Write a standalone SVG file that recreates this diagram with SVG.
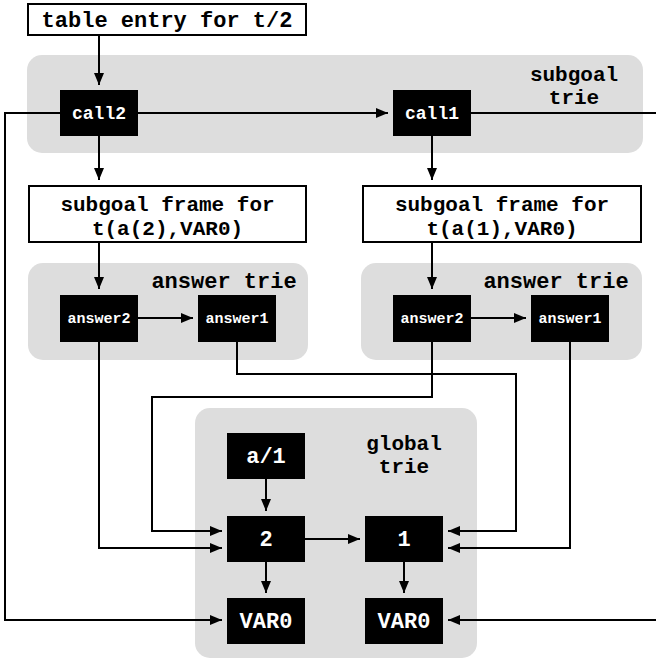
<svg xmlns="http://www.w3.org/2000/svg" width="656" height="661" viewBox="0 0 656 661">
<style>
.panel{fill:#dddddd;stroke:none}
.frame{fill:#ffffff;stroke:#000000;stroke-width:2}
.node{fill:#000000}
.t{font-family:"Liberation Mono","Courier New",monospace;font-weight:bold;text-anchor:middle}
.big{font-size:22px;fill:#000000}
.two{font-size:21px;fill:#000000}
.lab{font-size:22px;fill:#000000}
.w22{font-size:22px;fill:#ffffff}
.w18{font-size:18px;fill:#ffffff}
.w15{font-size:15px;fill:#ffffff}
.c{fill:none;stroke:#000000;stroke-width:2}
</style>
<defs>
<marker id="ah" markerUnits="userSpaceOnUse" markerWidth="12" markerHeight="10" refX="12" refY="5" orient="auto">
<path d="M0,0 L12,5 L0,10 z" fill="#000000"/>
</marker>
</defs>
<g id="panels">
<rect id="subgoal-trie" class="panel" x="27" y="55" width="616" height="98" rx="15"/>
<rect id="answer-trie-left" class="panel" x="28" y="263" width="280" height="97" rx="15"/>
<rect id="answer-trie-right" class="panel" x="361" y="263" width="281" height="97" rx="15"/>
<rect id="global-trie" class="panel" x="195" y="408" width="282" height="250" rx="15"/>
<text class="t two" x="574" y="81">subgoal</text>
<text class="t two" x="574" y="104">trie</text>
<text class="t lab" x="224" y="288">answer trie</text>
<text class="t lab" x="556" y="288">answer trie</text>
<text class="t two" x="404" y="450">global</text>
<text class="t two" x="404" y="473">trie</text>
</g>
<g id="connectors">
<path class="c" d="M99,36 L99,85" marker-end="url(#ah)"/>
<path class="c" d="M138,113 L388,113" marker-end="url(#ah)"/>
<path class="c" d="M60,113 L5,113 L5,620 L222,620" marker-end="url(#ah)"/>
<path class="c" d="M471,113 L662,113 L662,620 L448,620" marker-end="url(#ah)"/>
<path class="c" d="M99,136 L99,180" marker-end="url(#ah)"/>
<path class="c" d="M432,136 L432,180" marker-end="url(#ah)"/>
<path class="c" d="M99,243 L99,289" marker-end="url(#ah)"/>
<path class="c" d="M432,243 L432,289" marker-end="url(#ah)"/>
<path class="c" d="M138,318 L193,318" marker-end="url(#ah)"/>
<path class="c" d="M471,318 L526,318" marker-end="url(#ah)"/>
<path class="c" d="M99,342 L99,548 L222,548" marker-end="url(#ah)"/>
<path class="c" d="M432,342 L432,397 L152,397 L152,531 L222,531" marker-end="url(#ah)"/>
<path class="c" d="M237,342 L237,374 L516,374 L516,531 L448,531" marker-end="url(#ah)"/>
<path class="c" d="M570,342 L570,548 L448,548" marker-end="url(#ah)"/>
<path class="c" d="M266,479 L266,511" marker-end="url(#ah)"/>
<path class="c" d="M305,539 L360,539" marker-end="url(#ah)"/>
<path class="c" d="M266,562 L266,593" marker-end="url(#ah)"/>
<path class="c" d="M404,562 L404,593" marker-end="url(#ah)"/>
</g>
<g id="table-entry">
<rect class="frame" x="28" y="4" width="278" height="31"/>
<text class="t big" x="167" y="27">table entry for t/2</text>
</g>
<g id="frame-left">
<rect class="frame" x="29" y="186" width="277" height="56"/>
<text class="t two" x="167.5" y="211">subgoal frame for</text>
<text class="t two" x="167.5" y="235">t(a(2),VAR0)</text>
</g>
<g id="frame-right">
<rect class="frame" x="363" y="186" width="278" height="56"/>
<text class="t two" x="502" y="211">subgoal frame for</text>
<text class="t two" x="502" y="235">t(a(1),VAR0)</text>
</g>
<g id="call2">
<rect class="node" x="60" y="90" width="78" height="46"/>
<text class="t w18" x="99" y="119">call2</text>
</g>
<g id="call1">
<rect class="node" x="393" y="90" width="78" height="46"/>
<text class="t w18" x="432" y="119">call1</text>
</g>
<g id="answer2-left">
<rect class="node" x="60" y="295" width="78" height="47"/>
<text class="t w15" x="99" y="323">answer2</text>
</g>
<g id="answer1-left">
<rect class="node" x="198" y="295" width="78" height="47"/>
<text class="t w15" x="237" y="323">answer1</text>
</g>
<g id="answer2-right">
<rect class="node" x="393" y="295" width="78" height="47"/>
<text class="t w15" x="432" y="323">answer2</text>
</g>
<g id="answer1-right">
<rect class="node" x="531" y="295" width="78" height="47"/>
<text class="t w15" x="570" y="323">answer1</text>
</g>
<g id="a1">
<rect class="node" x="227" y="433" width="78" height="46"/>
<text class="t w22" x="266" y="463">a/1</text>
</g>
<g id="g2">
<rect class="node" x="227" y="516" width="78" height="46"/>
<text class="t w22" x="266" y="546">2</text>
</g>
<g id="g1">
<rect class="node" x="365" y="516" width="78" height="46"/>
<text class="t w22" x="404" y="546">1</text>
</g>
<g id="var0-left">
<rect class="node" x="227" y="598" width="78" height="46"/>
<text class="t w22" x="266" y="628">VAR0</text>
</g>
<g id="var0-right">
<rect class="node" x="365" y="598" width="78" height="46"/>
<text class="t w22" x="404" y="628">VAR0</text>
</g>
</svg>
